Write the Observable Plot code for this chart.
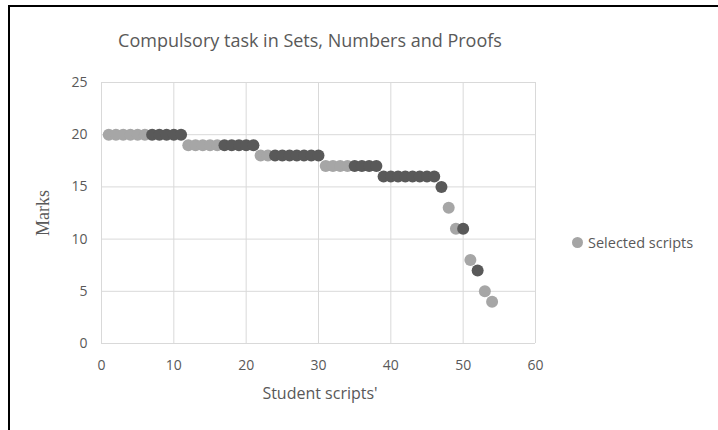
<!DOCTYPE html>
<html>
<head>
<meta charset="utf-8">
<script src="https://cdn.jsdelivr.net/npm/d3@7"></script>
<script src="https://cdn.jsdelivr.net/npm/@observablehq/plot@0.6"></script>
<style>
  html, body { margin: 0; padding: 0; background: #fff; }
  #wrap { position: relative; width: 718px; height: 430px; overflow: hidden; font-family: "Open Sans", sans-serif; color: #595959; }
  #frame { position: absolute; left: 8px; top: 5px; width: 720px; height: 440px; border-left: 2px solid #000; border-top: 2px solid #000; }
  #chart { position: absolute; left: 0; top: 0; }
  .title { position: absolute; left: 0; width: 620px; top: 28px; text-align: center; font-size: 18px; color: #595959; }
  .ylab { position: absolute; left: 43px; top: 213px; transform: translate(-50%, -50%) rotate(-90deg); font-family: "Liberation Serif", serif; font-size: 18px; color: #595959; white-space: nowrap; }
  .xlab { position: absolute; left: 320px; top: 393px; transform: translate(-50%, -50%); font-size: 16px; color: #595959; white-space: nowrap; }
  .legend { position: absolute; left: 572px; top: 233px; font-size: 14.5px; color: #595959; display: flex; align-items: center; white-space: nowrap; }
  .legend .sw { width: 11px; height: 11px; border-radius: 50%; background: #a5a5a5; margin-right: 5px; }
</style>
</head>
<body>
<div id="wrap">
  <div id="frame"></div>
  <div id="chart"></div>
  <div class="title">Compulsory task in Sets, Numbers and Proofs</div>
  <div class="ylab">Marks</div>
  <div class="xlab">Student scripts'</div>
  <div class="legend"><span class="sw"></span><span>Selected scripts</span></div>
</div>
<script>
// Data
const selectedX = [1,2,3,4,5,6, 12,13,14,15,16, 22,23, 31,32,33,34, 48, 49, 51, 53, 54];
const selectedY = [20,20,20,20,20,20, 19,19,19,19,19, 18,18, 17,17,17,17, 13, 11, 8, 5, 4];
const otherX = [7,8,9,10,11, 17,18,19,20,21, 24,25,26,27,28,29,30, 35,36,37,38, 39,40,41,42,43,44,45,46, 47, 50, 52];
const otherY = [20,20,20,20,20, 19,19,19,19,19, 18,18,18,18,18,18,18, 17,17,17,17, 16,16,16,16,16,16,16,16, 15, 11, 7];
const xTicks = [0,10,20,30,40,50,60];
const yTicks = [0,5,10,15,20,25];

const selected = selectedX.map((x, i) => ({x, y: selectedY[i]}));
const other = otherX.map((x, i) => ({x, y: otherY[i]}));

const chart = Plot.plot({
  width: 718,
  height: 430,
  marginLeft: 101,
  marginRight: 183,
  marginTop: 82,
  marginBottom: 87,
  style: { fontFamily: "Open Sans, sans-serif", fontSize: "14px", color: "#595959", background: "transparent" },
  x: { domain: [0, 60] },
  y: { domain: [0, 25] },
  marks: [
    Plot.gridX(xTicks, { stroke: "#d9d9d9", strokeOpacity: 1, strokeWidth: 1 }),
    Plot.gridY(yTicks, { stroke: "#d9d9d9", strokeOpacity: 1, strokeWidth: 1 }),
    Plot.axisX({ ticks: xTicks, tickSize: 0, tickPadding: 17, label: null, fill: "#595959" }),
    Plot.axisY({ ticks: yTicks, tickSize: 0, tickPadding: 14, label: null, fill: "#595959" }),
    Plot.dot(selected, { x: "x", y: "y", r: 6, fill: "#a6a6a6", stroke: "none" }),
    Plot.dot(other, { x: "x", y: "y", r: 6, fill: "#595959", stroke: "none" })
  ]
});
document.getElementById("chart").appendChild(chart);
</script>
</body>
</html>
